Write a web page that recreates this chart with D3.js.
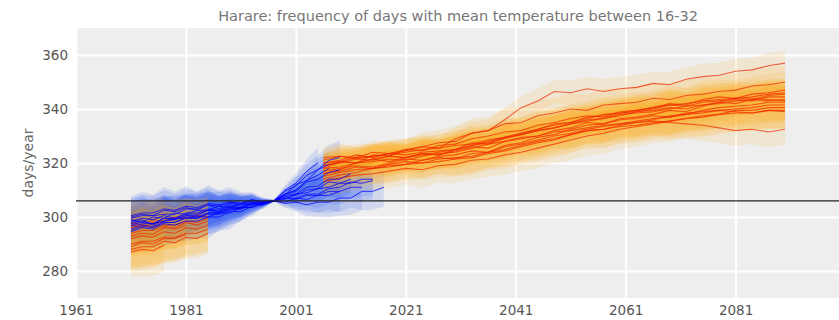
<!DOCTYPE html>
<html>
<head>
<meta charset="utf-8">
<script src="https://cdn.jsdelivr.net/npm/d3@7"></script>
<style>
  body { margin: 0; background: #fff; }
  text { font-family: "DejaVu Sans", sans-serif; }
</style>
</head>
<body>
<div id="chart"></div>
<script>
// Step 1: data
// =================================
var xTicks = [1961, 1981, 2001, 2021, 2041, 2061, 2081];
var yTicks = [280, 300, 320, 340, 360];
var baseline = 306;

// historical runs (blue), one value every 2 years
var histYears = [1971, 1973, 1975, 1977, 1979, 1981, 1983, 1985, 1987, 1989, 1991, 1993,
  1995, 1997, 1999, 2001, 2003, 2005, 2007, 2009, 2011, 2013, 2015, 2017];
var histRuns = [
  [299, 298, 300, 299.5, 301.5, 301, 302.5, 302.5, 304, 303.5, 305, 304.5, 305.5, 306, 309.5, 311.5, 315.5, 317.5, 321, 322],
  [297, 298, 297.5, 298.5, 299, 300.5, 300, 301.5, 301.5, 303, 303, 304.5, 305, 306, 308, 312, 313.5, 317.5, 319.5],
  [300, 301, 300.5, 302.5, 302, 303.5, 302.5, 304.5, 304, 305.5, 305, 306, 305.5, 306, 308, 308.5, 311, 311.5, 314, 314, 316],
  [295.5, 297, 296.5, 298, 298, 299.5, 299.5, 301, 301, 302.5, 303.5, 303.5, 305, 306, 306.5, 308.5, 309, 310.5, 311, 312.5, 312.5, 314, 314],
  [298, 299, 297, 298.5, 299.5, 299.5, 300, 300, 301.5, 301.5, 303.5, 303.5, 305.5, 306, 307, 306.5, 308, 308, 309.5, 309.5, 311, 311],
  [294.5, 296, 295.5, 297.5, 297, 298.5, 298.5, 300, 300, 302, 302, 304, 304.5, 306, 305, 305.5, 304.5, 305.5, 305.5, 307, 307, 309.5, 309.5, 311],
  [299.5, 300.5, 300.5, 301, 301, 303, 303, 304.5, 303, 305, 304.5, 306, 305.5, 306, 308.5, 309.5, 313, 314, 316.5, 317.5],
  [296.5, 297.5, 297.5, 299.5, 299, 300.5, 300.5, 302.5, 302, 303.5, 303.5, 305, 304.5, 306, 310, 312.5, 317, 320],
  [297.5, 298.5, 297.5, 299.5, 299.5, 301, 301, 302.5, 302, 304, 303.5, 305.5, 305, 306, 307.5, 308, 310, 310.5, 313, 312.5, 314],
  [295, 296.5, 296, 298, 298, 300, 299.5, 301.5, 301.5, 303, 303, 305, 305, 306, 305.5, 307, 306.5, 308, 308, 309.5],
  [300.5, 301.5, 301.5, 303, 302.5, 304, 303.5, 305, 304.5, 305.5, 305, 306.5, 305.5, 306, 308.5, 310, 313.5, 315.5, 318],
  [298.5, 299.5, 299, 300.5, 299.5, 301.5, 301.5, 303, 302.5, 304.5, 304, 305.5, 305, 306, 307, 307, 308.5, 308.5, 310.5, 311, 313, 312.5, 313.5]
];
var histSpread = [7, 7.5, 7, 7.8, 6.8, 7.2, 6.4, 6.6, 5.4, 5, 3.8, 2.8, 1.4, 0.3, 1.6, 3.4, 4.2, 5.4, 5.6, 6.4, 6.2, 7, 6.8, 7.2];
var histScale = [1, 0.8, 1.1, 0.9, 1.2, 1, 0.85, 1.05, 0.95, 1.15, 0.9, 1];

// scenario runs over the early period (orange / red)
var earlyYears = [1971, 1973, 1975, 1977, 1979, 1981, 1983, 1985];
var earlyRuns = [
  [298, 297, 299, 298.5, 300, 299.5, 300.5, 300],
  [296, 297, 296.5, 297, 297, 298.5, 298, 299.5],
  [294, 295, 295, 296.5, 296, 298, 297, 298.5],
  [292, 293, 292.5, 294.5, 294, 296, 295.5, 297],
  [290, 291, 291, 292.5, 292.5, 294, 294, 295.5],
  [288, 289, 289, 291, 290.5, 292.5, 292, 294],
  [287, 288, 287.5, 289.5],
  [293, 294, 293.5, 296, 295.5, 297],
  [297, 296, 298, 298],
  [289, 290.5, 290, 292, 292, 293.5]
];
var earlySpread = [9, 9.6, 8.8, 9.2, 8.4, 8.8, 8, 8.4];
var earlyScale = [0.8, 1, 0.9, 1.1, 1, 0.9, 1.05, 0.85, 1, 0.95];

// scenario runs (orange / red), one value every 3 years
var futYears = [2006, 2009, 2012, 2015, 2018, 2021, 2024, 2027, 2030, 2033, 2036, 2039, 2042,
  2045, 2048, 2051, 2054, 2057, 2060, 2063, 2066, 2069, 2072, 2075, 2078, 2081, 2084, 2087, 2090];
var futRuns = [
  [318, 320.5, 320, 323, 322.5, 325, 326, 325.5, 329, 331, 332, 336, 340.5, 343, 346.5, 346, 347.5, 346.5, 347.5, 348, 349.5, 349, 351, 352, 352.5, 354, 354.5, 356, 357],
  [320, 321, 323, 322, 323.5, 324.5, 326, 327.5, 328, 331, 332, 334.5, 335, 337.5, 338.5, 340, 339.5, 341.5, 342, 342.5, 344, 343.5, 345, 345.5, 346.5, 347, 348.5, 349, 350],
  [316, 317.5, 320, 321.5, 320.5, 322, 323.5, 323, 325, 327.5, 327, 329.5, 331, 332.5, 334.5, 335, 337, 337.5, 339, 339.5, 340.5, 342, 341.5, 343.5, 344.5, 344, 345.5, 346, 347],
  [321, 322.5, 322, 324, 323.5, 325, 324.5, 326.5, 327, 329, 330, 331.5, 332, 334, 335, 336.5, 337.5, 337, 338.5, 339, 340, 341.5, 341, 342.5, 343, 343.5, 343, 344.5, 344.5],
  [314, 315.5, 316.5, 318, 319, 319.5, 321, 322, 321.5, 323.5, 324, 326.5, 327.5, 329.5, 330.5, 332.5, 334, 334.5, 336.5, 337, 338, 339.5, 339, 341, 342.5, 342, 343.5, 343, 343.5],
  [319, 320.5, 320, 321.5, 322.5, 322, 323.5, 323, 324.5, 326, 325.5, 328, 329.5, 330, 332, 333, 335, 334.5, 336, 336.5, 337.5, 337, 338.5, 339, 339.5, 339, 338.5, 339.5, 339],
  [317, 318, 319, 318.5, 320, 321.5, 321, 322.5, 323, 324.5, 324, 326, 327, 328.5, 330, 331, 332.5, 333.5, 334.5, 335, 335.5, 335, 334.5, 334, 333, 332, 332.5, 331.5, 332.5],
  [315, 316.5, 317.5, 318, 318.5, 319.5, 320, 320.5, 321.5, 322, 323.5, 324.5, 326, 327.5, 328.5, 330.5, 332, 332.5, 334, 335, 336, 337.5, 338, 339.5, 340.5, 341, 341.5, 342.5, 342.5],
  [322, 322.5, 321.5, 322.5, 323, 324, 325, 325.5, 326.5, 327, 328.5, 329.5, 330.5, 332, 333, 334.5, 335.5, 336.5, 337.5, 339, 339.5, 340.5, 340, 341.5, 342, 343, 343.5, 345, 345.5],
  [318, 318.5, 320, 320.5, 321.5, 321, 322.5, 323.5, 324, 325.5, 327, 328, 329, 330, 331.5, 332, 333, 334, 334.5, 335.5, 336.5, 337, 338, 338.5, 339.5, 340, 340.5, 341.5, 341.5],
  [313, 314.5, 315.5, 316, 317, 318, 317.5, 319, 319.5, 321, 321.5, 323, 324, 325.5, 327, 328.5, 330, 331, 332.5, 333.5, 334.5, 335.5, 336.5, 337.5, 338, 339.5, 339.5, 340.5, 340.5],
  [320, 320.5, 322, 322.5, 323.5, 323, 324, 324.5, 325, 326.5, 327.5, 329, 330.5, 332, 333, 334.5, 336, 336.5, 338, 338.5, 339, 340, 341, 341.5, 342.5, 344, 344.5, 345.5, 346],
  [316, 317, 318.5, 318, 319.5, 320.5, 320, 321.5, 322, 322.5, 324, 325, 326.5, 328, 329, 330.5, 332, 332.5, 333.5, 334, 335, 335.5, 336.5, 337, 338, 338.5, 338.5, 339.5, 339.5],
  [319, 320, 321.5, 321, 322.5, 322, 323, 324, 325, 326.5, 328, 329.5, 331, 332.5, 334, 335, 336.5, 338, 338.5, 339.5, 340.5, 341.5, 342, 343, 343.5, 344, 344, 343.5, 343]
];
var futSpread = [4.5, 5.2, 4.8, 5.4, 5.6, 5.1, 5.8, 5.4, 6, 6.2, 5.7, 6.4, 6, 6.5, 6.1, 6.6, 6.2, 6.7, 6.3, 6.6, 6.2, 6.8, 6.4, 6.9, 6.5, 6.7, 6.4, 6.9, 6.6];
var futScale = [0.7, 0.9, 1, 0.8, 1.1, 0.95, 0.85, 1.05, 0.9, 1, 1.15, 0.8, 1, 0.9];

// Step 2: set up the chart
// =================================
var svgWidth = 839;
var svgHeight = 320;
var margin = { top: 28, right: -1, bottom: 22, left: 76 };
var width = svgWidth - margin.left - margin.right;
var height = svgHeight - margin.top - margin.bottom;

var svg = d3.select("#chart")
  .append("svg")
  .attr("width", svgWidth)
  .attr("height", svgHeight);

var chartGroup = svg.append("g")
  .attr("transform", `translate(${margin.left}, ${margin.top})`);

svg.append("defs").append("clipPath")
  .attr("id", "plot-clip")
  .append("rect")
  .attr("width", width)
  .attr("height", height);

var xScale = d3.scaleLinear().domain([1961, 2100]).range([0, width]);
var yScale = d3.scaleLinear().domain([270, 370]).range([height, 0]);

// background and grid
chartGroup.append("rect")
  .attr("width", width)
  .attr("height", height)
  .attr("fill", "#eeeeee");

var bottomAxis = d3.axisBottom(xScale).tickValues(xTicks).tickFormat(d3.format("d"))
  .tickSize(-height).tickPadding(8);
var leftAxis = d3.axisLeft(yScale).tickValues(yTicks).tickSize(-width).tickPadding(8);

var xAxisG = chartGroup.append("g")
  .attr("transform", `translate(0, ${height})`)
  .call(bottomAxis);
var yAxisG = chartGroup.append("g").call(leftAxis);

[xAxisG, yAxisG].forEach(function (g) {
  g.select(".domain").remove();
  g.selectAll(".tick line").attr("stroke", "#ffffff").attr("stroke-width", 2);
  g.selectAll(".tick text")
    .attr("fill", "#555555")
    .attr("font-size", "13.5px")
    .attr("font-family", "DejaVu Sans, sans-serif");
});
xAxisG.selectAll(".tick text").attr("y", 7).attr("dy", "0.71em");

// Step 3: bands and lines
// =================================
function toPoints(run, years, spread, k) {
  return run.map(function (v, i) {
    return { year: years[i], v: v, hw: spread[i] * k };
  });
}

var band = d3.area()
  .x(d => xScale(d.year))
  .y0(d => yScale(d.v - d.hw))
  .y1(d => yScale(d.v + d.hw));

var line = d3.line()
  .x(d => xScale(d.year))
  .y(d => yScale(d.v));

var histData = histRuns.map((r, i) => toPoints(r, histYears, histSpread, histScale[i]));
var earlyData = earlyRuns.map((r, i) => toPoints(r, earlyYears, earlySpread, earlyScale[i]));
var futData = futRuns.map((r, i) => toPoints(r, futYears, futSpread, futScale[i]));
var orangeData = earlyData.concat(futData);

var plot = chartGroup.append("g").attr("clip-path", "url(#plot-clip)");

plot.selectAll(".hist-band")
  .data(histData)
  .enter()
  .append("path")
  .attr("class", "hist-band")
  .attr("d", band)
  .attr("fill", "#2a55ee")
  .attr("fill-opacity", 0.14);

plot.selectAll(".fut-band")
  .data(orangeData)
  .enter()
  .append("path")
  .attr("class", "fut-band")
  .attr("d", band)
  .attr("fill", "#ffaa10")
  .attr("fill-opacity", 0.13);

plot.selectAll(".fut-line")
  .data(orangeData)
  .enter()
  .append("path")
  .attr("class", "fut-line")
  .attr("d", line)
  .attr("fill", "none")
  .attr("stroke", "#f02800")
  .attr("stroke-opacity", 0.7)
  .attr("stroke-width", 1.1);

plot.selectAll(".hist-line")
  .data(histData)
  .enter()
  .append("path")
  .attr("class", "hist-line")
  .attr("d", line)
  .attr("fill", "none")
  .attr("stroke", "#0000ff")
  .attr("stroke-opacity", 0.75)
  .attr("stroke-width", 1);

// baseline
plot.append("line")
  .attr("x1", 0)
  .attr("x2", width)
  .attr("y1", yScale(baseline))
  .attr("y2", yScale(baseline))
  .attr("stroke", "#222222")
  .attr("stroke-width", 1.2);

// Step 4: labels
// =================================
svg.append("text")
  .attr("x", margin.left + width / 2)
  .attr("y", 21)
  .attr("text-anchor", "middle")
  .attr("font-size", "14.5px")
  .attr("fill", "#777777")
  .text("Harare: frequency of days with mean temperature between 16-32");

svg.append("text")
  .attr("transform", `translate(33, ${margin.top + yScale(320)}) rotate(-90)`)
  .attr("text-anchor", "middle")
  .attr("font-size", "14px")
  .attr("fill", "#666666")
  .text("days/year");
</script>
</body>
</html>
